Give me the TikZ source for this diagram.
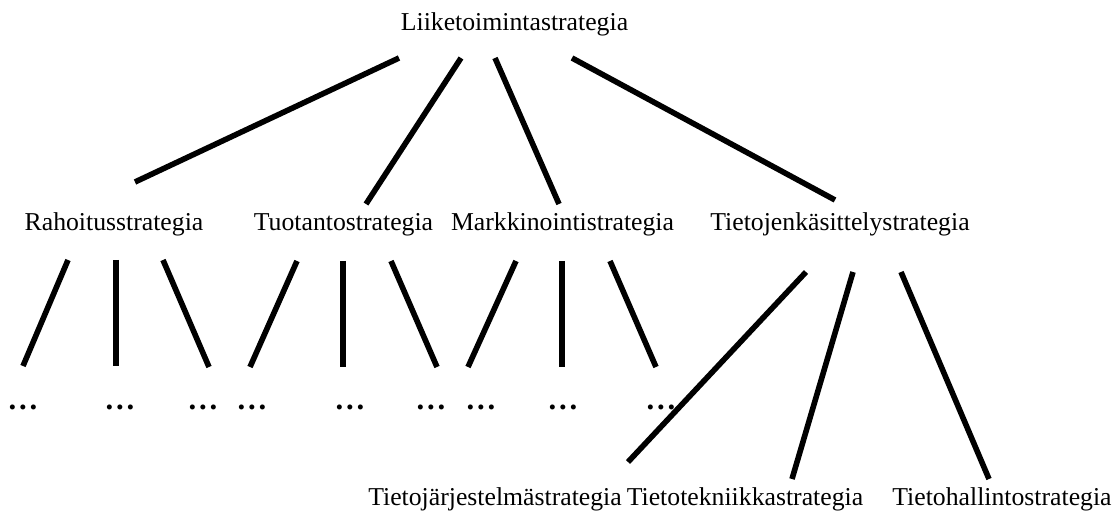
\documentclass[tikz,border=0pt]{standalone}
\usepackage{fontspec}
\setmainfont{Liberation Serif}
\begin{document}
\begin{tikzpicture}[x=0.75pt,y=-0.75pt,
  label/.style={inner sep=0pt, anchor=base, font=\fontsize{19.3}{23}\selectfont},
  ellip/.style={inner sep=0pt, anchor=base, font=\fontsize{23}{26}\selectfont\bfseries},
  branch/.style={line width=4.2pt, line cap=butt}]
\useasboundingbox (0,0) rectangle (1117,513);

% strategy levels
\node[label] (top) at (514.5,31) {Liiketoimintastrategia};
\node[label] (rah) at (114,231) {Rahoitusstrategia};
\node[label] (tuo) at (343.5,231) {Tuotantostrategia};
\node[label] (mar) at (562.5,231) {Markkinointistrategia};
\node[label] (tjk) at (840,231) {Tietojenkäsittelystrategia};

\node[label] (tjs) at (495,505) {Tietojärjestelmästrategia};
\node[label] (ttk) at (745,505) {Tietotekniikkastrategia};
\node[label] (thl) at (1002,505) {Tietohallintostrategia};

% open-ended sub-strategies
\newcommand\moredots{.\kern.09em.\kern.09em.}
\node[ellip] (r1) at (23,409) {\moredots};
\node[ellip] (r2) at (120,409) {\moredots};
\node[ellip] (r3) at (203,409) {\moredots};
\node[ellip] (t1) at (252,409) {\moredots};
\node[ellip] (t2) at (350,409) {\moredots};
\node[ellip] (t3) at (431,409) {\moredots};
\node[ellip] (m1) at (481,409) {\moredots};
\node[ellip] (m2) at (563,409) {\moredots};
\node[ellip] (m3) at (661,409) {\moredots};

% business strategy to functional strategies
\draw[branch] ([shift={(-115.5,27)}]top.base) -- ([shift={(21,-49)}]rah.base);
\draw[branch] ([shift={(-53.5,27)}]top.base) -- ([shift={(22.5,-27)}]tuo.base);
\draw[branch] ([shift={(-19.5,27)}]top.base) -- ([shift={(-3.5,-27)}]mar.base);
\draw[branch] ([shift={(57.5,27)}]top.base) -- ([shift={(-5,-31)}]tjk.base);

% functional strategies to their sub-strategies
\draw[branch] ([shift={(-46,29)}]rah.base) -- ([shift={(0,-43)}]r1.base);
\draw[branch] ([shift={(2,29)}]rah.base) -- ([shift={(-4,-43)}]r2.base);
\draw[branch] ([shift={(49,29)}]rah.base) -- ([shift={(6,-42)}]r3.base);

\draw[branch] ([shift={(-46.5,30)}]tuo.base) -- ([shift={(-2,-42)}]t1.base);
\draw[branch] ([shift={(-0.5,30)}]tuo.base) -- ([shift={(-7,-42)}]t2.base);
\draw[branch] ([shift={(47.5,30)}]tuo.base) -- ([shift={(6,-42)}]t3.base);

\draw[branch] ([shift={(-46.5,30)}]mar.base) -- ([shift={(-13,-42)}]m1.base);
\draw[branch] ([shift={(-0.5,30)}]mar.base) -- ([shift={(-1,-42)}]m2.base);
\draw[branch] ([shift={(47.5,30)}]mar.base) -- ([shift={(-5,-42)}]m3.base);

\draw[branch] ([shift={(-34,41)}]tjk.base) -- ([shift={(133,-43)}]tjs.base);
\draw[branch] ([shift={(13,41)}]tjk.base) -- ([shift={(47,-26)}]ttk.base);
\draw[branch] ([shift={(61,41)}]tjk.base) -- ([shift={(-13,-26)}]thl.base);
\end{tikzpicture}
\end{document}
